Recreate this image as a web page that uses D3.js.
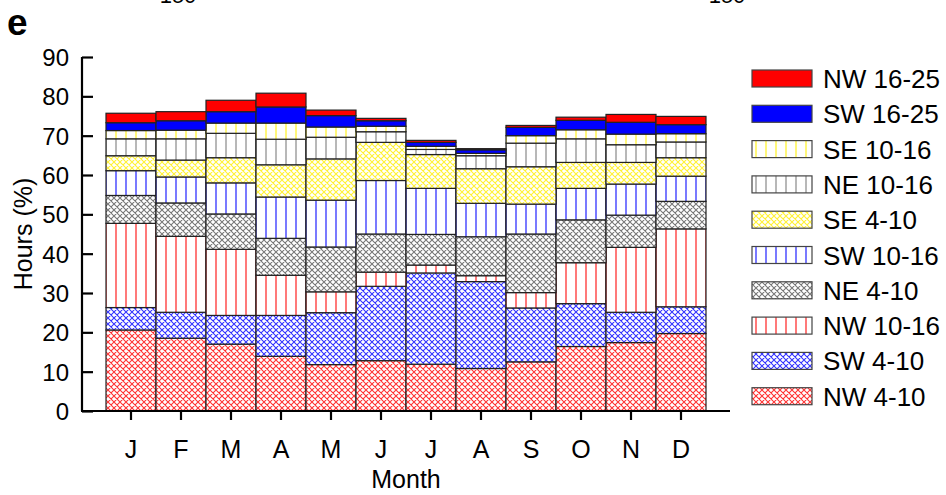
<!DOCTYPE html>
<html>
<head>
<meta charset="utf-8">
<script src="https://cdn.jsdelivr.net/npm/d3@7"></script>
<style>
  html, body { margin: 0; padding: 0; background: #fff; }
  svg { display: block; font-family: "Liberation Sans", Arial, Helvetica, sans-serif; }
</style>
</head>
<body>
<svg id="chart" width="946" height="495"></svg>
<script>
// ---- data ----
const months = ["J","F","M","A","M","J","J","A","S","O","N","D"];
const seriesNames = ["NW 4-10","SW 4-10","NW 10-16","NE 4-10","SW 10-16","SE 4-10","NE 10-16","SE 10-16","SW 16-25","NW 16-25"];
const nw4_10  = [20.6, 18.5, 17.0, 13.9, 11.8, 12.8, 11.9, 10.8, 12.5, 16.4, 17.4, 19.7];
const sw4_10  = [ 5.7,  6.6,  7.3, 10.4, 13.2, 18.9, 23.2, 22.1, 13.7, 10.9,  7.7,  6.8];
const nw10_16 = [21.4, 19.3, 16.8, 10.2,  5.3,  3.6,  2.0,  1.5,  3.9, 10.4, 16.5, 19.8];
const ne4_10  = [ 7.1,  8.5,  9.0,  9.4, 11.4,  9.7,  7.8,  9.9, 14.9, 10.9,  8.2,  7.0];
const sw10_16 = [ 6.3,  6.6,  7.9, 10.5, 11.9, 13.6, 11.7,  8.5,  7.6,  8.0,  7.9,  6.4];
const se4_10  = [ 3.8,  4.3,  6.4,  8.2, 10.5,  9.7,  8.6,  8.8,  9.5,  6.6,  5.5,  4.7];
const ne10_16 = [ 4.3,  5.4,  6.2,  6.5,  5.5,  2.7,  1.3,  3.3,  6.0,  6.0,  4.5,  4.0];
const se10_16 = [ 2.1,  2.2,  2.6,  4.1,  2.6,  1.4,  0.8,  0.6,  1.9,  2.3,  2.7,  2.1];
const sw16_25 = [ 2.0,  2.4,  2.9,  4.1,  2.9,  1.4,  1.0,  0.9,  2.1,  2.4,  3.0,  2.3];
const nw16_25 = [ 2.4,  2.3,  2.9,  3.5,  1.4,  0.6,  0.5,  0.3,  0.5,  0.8,  2.0,  2.1];
const yTicks = [0,10,20,30,40,50,60,70,80,90];
const seriesValues = [nw4_10, sw4_10, nw10_16, ne4_10, sw10_16, se4_10, ne10_16, se10_16, sw16_25, nw16_25];

// styles: [type, colour]
const styles = [
  ["cross", "#ff0000"], ["cross", "#0000ff"], ["vert", "#ff0000"], ["cross", "#555555"],
  ["vert", "#0000ff"], ["cross", "#ffee00"], ["vert", "#777777"], ["vert", "#ffee00"],
  ["solid", "#0000ff"], ["solid", "#ff0000"]
];

const svg = d3.select("#chart");
const defs = svg.append("defs");
styles.forEach((s, i) => {
  if (s[0] === "cross") {
    const p = defs.append("pattern").attr("id", "pat" + i).attr("patternUnits", "userSpaceOnUse")
      .attr("width", 6).attr("height", 6);
    p.append("rect").attr("width", 6).attr("height", 6).attr("fill", "#fff");
    p.append("path").attr("d", "M0,0L6,6M6,0L0,6M-1,5L1,7M5,-1L7,1M-1,1L1,-1M5,7L7,5")
      .attr("stroke", s[1]).attr("stroke-width", 1.1).attr("stroke-opacity", 0.8);
  } else if (s[0] === "vert") {
    const p = defs.append("pattern").attr("id", "pat" + i).attr("patternUnits", "userSpaceOnUse")
      .attr("width", 10).attr("height", 10).attr("x", 1);
    p.append("rect").attr("width", 10).attr("height", 10).attr("fill", "#fff");
    p.append("line").attr("x1", 5).attr("x2", 5).attr("y1", 0).attr("y2", 10)
      .attr("stroke", s[1]).attr("stroke-width", 1.4).attr("stroke-opacity", 0.75);
  }
});
const fillOf = i => styles[i][0] === "solid" ? styles[i][1] : `url(#pat${i})`;

// ---- scales ----
const x0 = 82, x1 = 730, yTop = 57, yBot = 411;
const x = d3.scaleBand().domain(d3.range(months.length)).range([x0 + 24, x1 - 24]).padding(0);
const y = d3.scaleLinear().domain([0, 90]).range([yBot, yTop]);

// stack
const table = months.map((m, j) => {
  const o = { idx: j };
  seriesNames.forEach((n, i) => o[n] = seriesValues[i][j]);
  return o;
});
const stacked = d3.stack().keys(seriesNames)(table);

const g = svg.append("g");
stacked.forEach((layer, i) => {
  g.selectAll(null).data(layer).enter().append("rect")
    .attr("x", d => x(d.data.idx))
    .attr("width", x.bandwidth())
    .attr("y", d => y(d[1]))
    .attr("height", d => y(d[0]) - y(d[1]))
    .attr("fill", fillOf(i))
    .attr("stroke", "#222")
    .attr("stroke-width", 1.2);
});

// ---- axes ----
const yAxis = d3.axisLeft(y).tickValues(yTicks).tickSizeInner(-11).tickSizeOuter(0).tickPadding(14);
const ya = svg.append("g").attr("transform", `translate(${x0},0)`).call(yAxis);
ya.select(".domain").attr("stroke-width", 2.2).attr("d", `M0,${yTop}V${yBot}`);
ya.selectAll(".tick line").attr("stroke-width", 2.2);
ya.selectAll(".tick text").attr("font-size", 24).attr("fill", "#000").attr("x", -13).attr("dy", "0.36em");

svg.append("line").attr("x1", x0 - 1).attr("x2", x1).attr("y1", yBot).attr("y2", yBot)
  .attr("stroke", "#000").attr("stroke-width", 2.2);
const xa = svg.append("g");
months.forEach((m, j) => {
  const cx = x(j) + x.bandwidth() / 2;
  xa.append("line").attr("x1", cx).attr("x2", cx).attr("y1", yBot).attr("y2", yBot + 9)
    .attr("stroke", "#000").attr("stroke-width", 2.2);
  xa.append("text").attr("x", cx).attr("y", 458).attr("text-anchor", "middle")
    .attr("font-size", 25).text(m);
});

svg.append("text").attr("x", (x0 + x1) / 2).attr("y", 488).attr("text-anchor", "middle")
  .attr("font-size", 25).text("Month");
svg.append("text").attr("transform", `translate(32,234) rotate(-90)`).attr("text-anchor", "middle")
  .attr("font-size", 25).text("Hours (%)");

// panel letter and cut-off labels from panel above
svg.append("text").attr("x", 7).attr("y", 35).attr("font-size", 37).attr("font-weight", "bold").text("e");
svg.append("text").attr("x", 178).attr("y", 3).attr("text-anchor", "middle").attr("font-size", 22).text("150");
svg.append("text").attr("x", 727).attr("y", 3).attr("text-anchor", "middle").attr("font-size", 22).text("150");

// ---- legend ----
const legendOrder = d3.range(seriesNames.length).reverse();
const lg = svg.append("g");
legendOrder.forEach((si, k) => {
  const ly = 70 + k * 35.3;
  lg.append("rect").attr("x", 752).attr("y", ly).attr("width", 60).attr("height", 17)
    .attr("fill", fillOf(si)).attr("stroke", "#444").attr("stroke-width", 1.2);
  lg.append("text").attr("x", 823).attr("y", ly + 18).attr("font-size", 26).text(seriesNames[si]);
});
</script>
</body>
</html>
